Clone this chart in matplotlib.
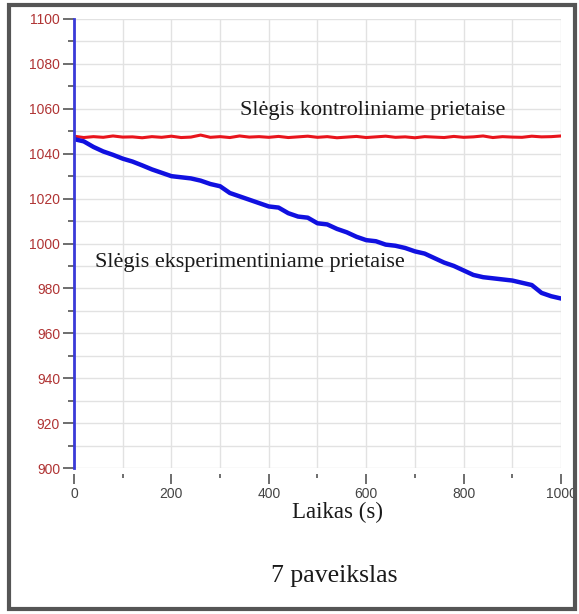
import matplotlib
matplotlib.use("Agg")
import matplotlib.pyplot as plt
from matplotlib.patches import Rectangle
from matplotlib.ticker import MultipleLocator

# time axis (s)
time_s = [0, 20, 40, 60, 80, 100, 120, 140, 160, 180,
          200, 220, 240, 260, 280, 300, 320, 340, 360, 380,
          400, 420, 440, 460, 480, 500, 520, 540, 560, 580,
          600, 620, 640, 660, 680, 700, 720, 740, 760, 780,
          800, 820, 840, 860, 880, 900, 920, 940, 960, 980, 1000]

# pressure in the control vessel
p_control = [1047.8, 1047.2, 1047.6, 1047.3, 1047.9, 1047.4, 1047.5, 1047.1, 1047.6, 1047.3,
             1047.8, 1047.2, 1047.4, 1048.3, 1047.3, 1047.6, 1047.2, 1047.9, 1047.4, 1047.6,
             1047.3, 1047.7, 1047.2, 1047.5, 1047.8, 1047.3, 1047.6, 1047.1, 1047.4, 1047.7,
             1047.2, 1047.5, 1047.8, 1047.3, 1047.5, 1047.1, 1047.6, 1047.4, 1047.2, 1047.7,
             1047.3, 1047.5, 1047.9, 1047.2, 1047.6, 1047.4, 1047.3, 1047.8, 1047.5, 1047.6, 1047.9]

# pressure in the experimental vessel
p_experiment = [1046.5, 1045.5, 1043.0, 1041.0, 1039.5, 1037.8, 1036.5, 1034.8, 1033.0, 1031.5,
                1030.0, 1029.5, 1029.0, 1028.0, 1026.5, 1025.5, 1022.5, 1021.0, 1019.5, 1018.0,
                1016.5, 1016.0, 1013.5, 1012.0, 1011.5, 1009.0, 1008.5, 1006.5, 1005.0, 1003.0,
                1001.5, 1001.0, 999.5, 999.0, 998.0, 996.5, 995.5, 993.5, 991.5, 990.0,
                988.0, 986.0, 985.0, 984.5, 984.0, 983.5, 982.5, 981.5, 978.0, 976.5, 975.5]

W, H = 579, 614
fig = plt.figure(figsize=(W / 100, H / 100), dpi=100)
fig.patch.set_facecolor("white")

# outer frame
fig.add_artist(Rectangle((9 / W, 1 - 609 / H), 566 / W, 604 / H, transform=fig.transFigure,
                         fill=False, edgecolor="#555555", linewidth=3))

ax = fig.add_axes([74 / W, 1 - 468 / H, 487 / W, 449 / H])
ax.plot(time_s, p_control, color="#e8141c", linewidth=2.2)
ax.plot(time_s, p_experiment, color="#1010e0", linewidth=3.2)

ax.set_xlim(0, 1000)
ax.set_ylim(900, 1100)
ax.xaxis.set_major_locator(MultipleLocator(200))
ax.xaxis.set_minor_locator(MultipleLocator(100))
ax.yaxis.set_major_locator(MultipleLocator(20))
ax.yaxis.set_minor_locator(MultipleLocator(10))
ax.grid(True, which="both", color="#e2e2e2", linewidth=1.0)
ax.set_axisbelow(True)

for s in ["top", "right"]:
    ax.spines[s].set_visible(False)
ax.spines["bottom"].set_position(("outward", 4))
ax.spines["bottom"].set_visible(False)
ax.spines["left"].set_color("#3a3ad8")
ax.spines["left"].set_linewidth(2)

ax.tick_params(axis="y", which="major", length=8, width=1.2, color="#555555",
               labelcolor="#b03434", labelsize=10, pad=2)
ax.tick_params(axis="y", which="minor", length=4, width=1.2, color="#555555")
ax.tick_params(axis="x", which="major", length=7, width=1.2, color="#555555",
               labelcolor="#444444", labelsize=10, pad=3)
ax.tick_params(axis="x", which="minor", length=3, width=1.2, color="#555555")
for lab in ax.get_xticklabels() + ax.get_yticklabels():
    lab.set_family("Liberation Sans")

serif = "Liberation Serif"
fig.text(373 / W, 1 - 110 / H, "Slėgis kontroliniame prietaise", family=serif,
         fontsize=16, color="#1a1a1a", ha="center", va="center")
fig.text(250 / W, 1 - 263 / H, "Slėgis eksperimentiniame prietaise", family=serif,
         fontsize=16, color="#1a1a1a", ha="center", va="center")
fig.text(338 / W, 1 - 512 / H, "Laikas (s)", family=serif,
         fontsize=16.5, color="#1a1a1a", ha="center", va="center")
fig.text(334 / W, 1 - 576 / H, "7 paveikslas", family=serif,
         fontsize=18.5, color="#1a1a1a", ha="center", va="center")

fig.savefig("out.png", dpi=100)
